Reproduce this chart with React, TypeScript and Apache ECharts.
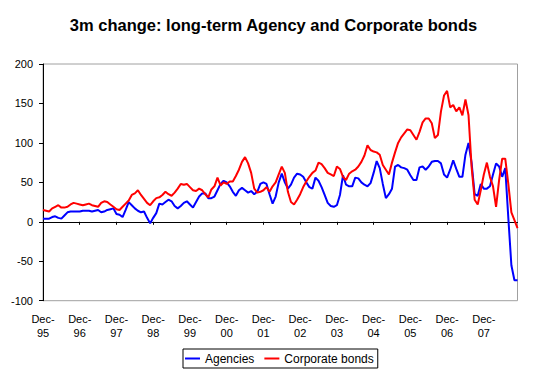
import React, { useEffect, useRef } from "react";
import * as echarts from "echarts";

const MONTH_NAMES = ["Jan", "Feb", "Mar", "Apr", "May", "Jun", "Jul", "Aug", "Sep", "Oct", "Nov", "Dec"];
const FIRST_YEAR = 1995; // series starts Dec-95, monthly, ends Nov-08
const MONTH_COUNT = 156;

const categories: string[] = [];
for (let i = 0; i < MONTH_COUNT; i++) {
  const m = (11 + i) % 12;
  const y = FIRST_YEAR + Math.floor((11 + i) / 12);
  categories.push(`${MONTH_NAMES[m]}-${String(y % 100).padStart(2, "0")}`);
}

const agencies = [
  4, 4, 4, 6, 7, 5, 4, 8, 12, 13, 13, 13,
  13, 14, 14, 14, 13, 14, 15, 12, 13, 15, 16, 17,
  10, 9, 6, 15, 25, 21, 17, 14, 12, 13, 5, -2,
  5, 11, 23, 22, 25, 28, 26, 20, 17, 20, 24, 26,
  22, 18, 25, 32, 36, 36, 30, 30, 32, 40, 48, 52,
  50, 45, 38, 33, 40, 43, 40, 37, 39, 35, 38, 48,
  50, 48, 35, 23, 32, 50, 61, 50, 42, 47, 56, 61,
  60, 57, 50, 44, 42, 56, 52, 44, 34, 24, 20, 19,
  21, 34, 59, 47, 45, 45, 56, 55, 50, 47, 45, 49,
  62, 77, 68, 48, 30, 35, 42, 70, 72, 69, 68, 66,
  59, 53, 53, 69, 70, 66, 70, 76, 77, 77, 74, 60,
  56, 66, 78, 67, 57, 57, 85, 100, 75, 35, 33, 48,
  42, 42, 45, 60, 74, 70, 57, 68, 5, -55, -74, -74,
];

const corporateBonds = [
  15, 14, 13, 17, 19, 21, 18, 18, 19, 22, 24, 23,
  22, 21, 22, 23, 21, 20, 19, 24, 26, 25, 22, 19,
  16, 15, 19, 23, 27, 34, 36, 40, 34, 29, 24, 21,
  26, 30, 31, 34, 38, 35, 33, 37, 42, 48, 47, 48,
  44, 40, 39, 42, 40, 35, 31, 41, 45, 56, 46, 50,
  48, 51, 51, 58, 66, 76, 82, 74, 62, 42, 37, 38,
  40, 44, 38, 45, 50, 60, 70, 62, 38, 25, 22, 28,
  35, 44, 51, 57, 62, 65, 75, 73, 68, 62, 60, 58,
  70, 67, 57, 53, 61, 64, 66, 70, 76, 84, 97, 91,
  89, 88, 85, 72, 66, 60, 75, 88, 100, 107, 112, 117,
  116, 110, 104, 114, 126, 131, 131, 125, 106, 110, 140, 160,
  166, 145, 148, 140, 145, 135, 155, 135, 70, 28, 22, 40,
  60, 75, 57, 45, 19, 53, 80, 80, 48, 12, 2, -8,
];

const Y_MIN = -100;
const Y_MAX = 200;
const Y_STEP = 50;

const FONT = "'Liberation Sans', Arial, sans-serif";

export default function App() {
  const ref = useRef<HTMLDivElement>(null);

  useEffect(() => {
    if (!ref.current) return;
    const chart = echarts.init(ref.current, undefined, { renderer: "svg" });
    chart.setOption({
      animation: false,
      backgroundColor: "#ffffff",
      title: {
        text: "3m change: long-term Agency and Corporate bonds",
        left: "center",
        top: 15,
        padding: 0,
        textStyle: {
          fontFamily: FONT,
          fontSize: 16.5,
          fontWeight: "bold",
          color: "#000000",
          lineHeight: 20,
        },
      },
      legend: {
        left: 183,
        top: 349,
        orient: "horizontal",
        padding: [3, 4, 3, 2],
        icon: "rect",
        itemWidth: 15,
        itemHeight: 2,
        itemGap: 10,
        borderColor: "#000000",
        borderWidth: 1,
        textStyle: { fontFamily: FONT, fontSize: 12, color: "#000000", lineHeight: 13 },
        data: ["Agencies", "Corporate bonds"],
      },
      grid: {
        left: 43,
        top: 64,
        width: 474.5,
        height: 236.7,
        show: true,
        borderColor: "#a0a0a0",
        borderWidth: 1,
        backgroundColor: "transparent",
      },
      xAxis: [
        {
          type: "category",
          data: categories,
          boundaryGap: false,
          position: "bottom",
          axisLine: { show: true, onZero: true, lineStyle: { color: "#000000", width: 1 } },
          axisTick: { show: true, interval: 11, length: 3, inside: false, lineStyle: { color: "#000000" } },
          axisLabel: { show: false },
          splitLine: { show: false },
        },
        {
          type: "category",
          data: categories,
          boundaryGap: false,
          position: "bottom",
          axisLine: { show: false, onZero: false },
          axisTick: { show: false },
          axisLabel: {
            show: true,
            interval: 11,
            margin: 11,
            fontFamily: FONT,
            fontSize: 11,
            lineHeight: 14,
            color: "#000000",
            formatter: (v: string) => v.replace("-", "-\n"),
          },
          splitLine: { show: false },
        },
      ],
      yAxis: {
        type: "value",
        min: Y_MIN,
        max: Y_MAX,
        interval: Y_STEP,
        axisLine: { show: true, lineStyle: { color: "#000000", width: 1 } },
        axisTick: { show: true, length: 4, inside: false, lineStyle: { color: "#000000" } },
        axisLabel: { margin: 10, fontFamily: FONT, fontSize: 11, color: "#000000" },
        splitLine: { show: false },
      },
      series: [
        {
          name: "Agencies",
          type: "line",
          xAxisIndex: 0,
          data: agencies,
          symbol: "none",
          showSymbol: false,
          lineStyle: { color: "#0000ff", width: 2 },
          itemStyle: { color: "#0000ff" },
        },
        {
          name: "Corporate bonds",
          type: "line",
          xAxisIndex: 0,
          data: corporateBonds,
          symbol: "none",
          showSymbol: false,
          lineStyle: { color: "#ff0000", width: 2 },
          itemStyle: { color: "#ff0000" },
        },
      ],
    });
    return () => chart.dispose();
  }, []);

  return (
    <div
      ref={ref}
      style={{ position: "fixed", left: 0, top: 0, width: 547, height: 374, background: "#fff" }}
    />
  );
}
